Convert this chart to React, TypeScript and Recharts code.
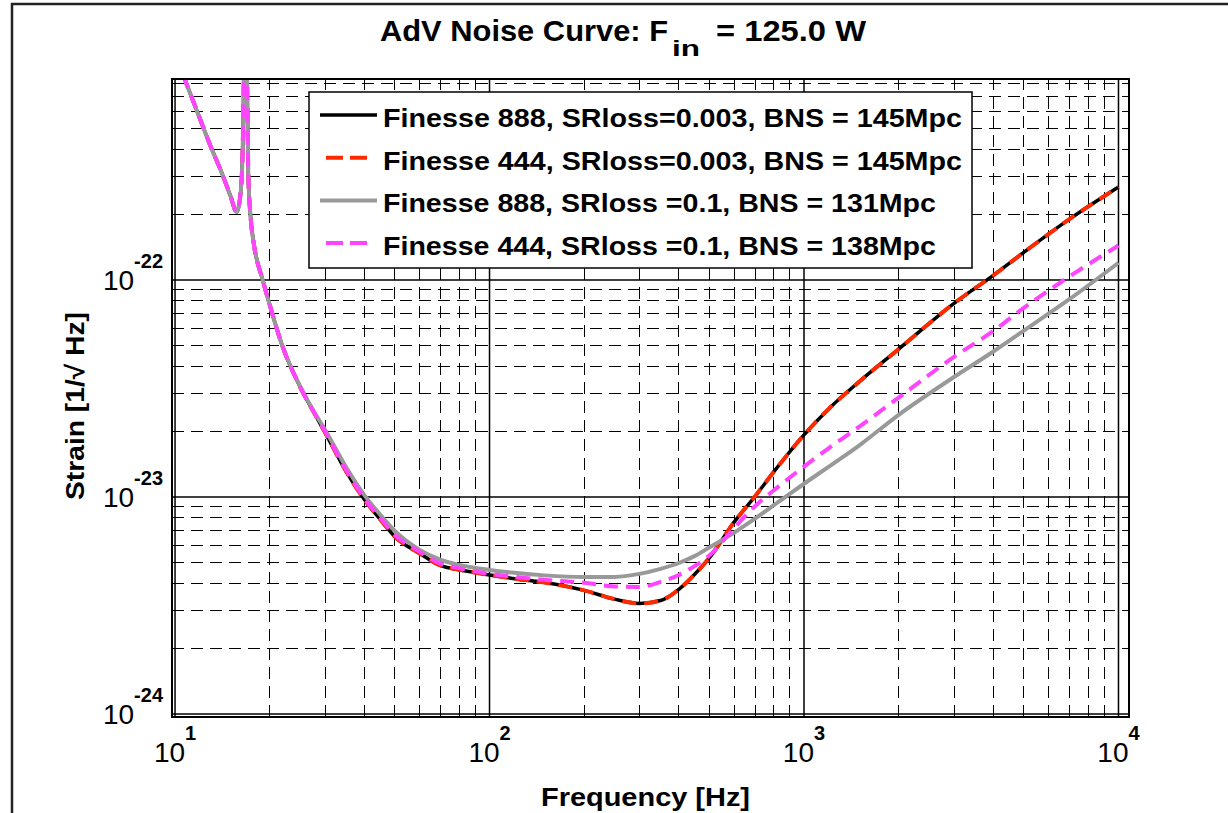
import React from 'react';
import { LineChart, Line, XAxis, YAxis, ReferenceLine } from 'recharts';

// Frequency samples [Hz]
const FREQ = [10, 11, 12, 13, 14, 15, 15.7, 16.2, 16.5, 16.7, 16.9, 17.1, 17.4, 17.8, 19, 20, 22, 25, 28, 30, 35, 40, 45, 50, 60, 70, 80, 100, 120, 150, 200, 250, 300, 350, 400, 450, 500, 600, 700, 800, 1000, 1200, 1500, 2000, 3000, 4000, 5000, 7000, 10000];

// Finesse 888, SRloss=0.003
const BLACK = [1.10e-21, 7.67e-22, 5.53e-22, 4.10e-22, 3.18e-22, 2.44e-22, 2.06e-22, 2.60e-22, 6.07e-22, 3.0e-21, 1.2e-21, 3.05e-22, 1.93e-22, 1.47e-22, 1.0e-22, 7.67e-23, 4.91e-23, 3.21e-23, 2.37e-23, 1.98e-23, 1.31e-23, 9.72e-24, 7.85e-24, 6.56e-24, 5.49e-24, 4.82e-24, 4.62e-24, 4.37e-24, 4.20e-24, 4.03e-24, 3.71e-24, 3.38e-24, 3.23e-24, 3.33e-24, 3.75e-24, 4.41e-24, 5.24e-24, 7.67e-24, 1.01e-23, 1.30e-23, 1.93e-23, 2.55e-23, 3.40e-23, 4.80e-23, 7.80e-23, 1.05e-22, 1.34e-22, 1.91e-22, 2.68e-22];

// Finesse 444, SRloss=0.003
const RED = [1.10e-21, 7.67e-22, 5.53e-22, 4.10e-22, 3.18e-22, 2.44e-22, 2.06e-22, 2.60e-22, 6.07e-22, 3.0e-21, 1.2e-21, 3.05e-22, 1.93e-22, 1.47e-22, 1.0e-22, 7.67e-23, 4.91e-23, 3.21e-23, 2.37e-23, 1.98e-23, 1.31e-23, 9.72e-24, 7.85e-24, 6.56e-24, 5.49e-24, 4.82e-24, 4.62e-24, 4.37e-24, 4.20e-24, 4.03e-24, 3.71e-24, 3.38e-24, 3.23e-24, 3.33e-24, 3.75e-24, 4.41e-24, 5.24e-24, 7.67e-24, 1.01e-23, 1.30e-23, 1.93e-23, 2.55e-23, 3.40e-23, 4.80e-23, 7.80e-23, 1.05e-22, 1.34e-22, 1.91e-22, 2.68e-22];

// Finesse 888, SRloss=0.1
const GRAY = [1.10e-21, 7.67e-22, 5.53e-22, 4.10e-22, 3.18e-22, 2.44e-22, 2.06e-22, 2.60e-22, 6.07e-22, 3.0e-21, 1.2e-21, 3.05e-22, 1.93e-22, 1.47e-22, 1.0e-22, 7.67e-23, 4.91e-23, 3.23e-23, 2.40e-23, 2.04e-23, 1.37e-23, 1.02e-23, 8.26e-24, 6.97e-24, 5.70e-24, 5.13e-24, 4.86e-24, 4.61e-24, 4.47e-24, 4.35e-24, 4.28e-24, 4.28e-24, 4.42e-24, 4.66e-24, 4.96e-24, 5.35e-24, 5.85e-24, 6.85e-24, 7.96e-24, 9.14e-24, 1.15e-23, 1.38e-23, 1.73e-23, 2.39e-23, 3.57e-23, 4.68e-23, 5.84e-23, 8.17e-23, 1.20e-22];

// Finesse 444, SRloss=0.1
const MAGENTA = [1.10e-21, 7.67e-22, 5.53e-22, 4.10e-22, 3.18e-22, 2.44e-22, 2.06e-22, 2.60e-22, 6.07e-22, 3.0e-21, 1.2e-21, 3.05e-22, 1.93e-22, 1.47e-22, 1.0e-22, 7.67e-23, 4.91e-23, 3.21e-23, 2.38e-23, 2.00e-23, 1.33e-23, 9.85e-24, 7.98e-24, 6.68e-24, 5.58e-24, 4.92e-24, 4.70e-24, 4.42e-24, 4.28e-24, 4.15e-24, 4.02e-24, 3.87e-24, 3.85e-24, 4.06e-24, 4.37e-24, 4.81e-24, 5.37e-24, 7.2e-24, 9.09e-24, 1.07e-23, 1.38e-23, 1.68e-23, 2.11e-23, 2.87e-23, 4.42e-23, 5.82e-23, 7.43e-23, 1.04e-22, 1.44e-22];

const SERIES_NAMES = [
  'Finesse 888, SRloss=0.003, BNS = 145Mpc',
  'Finesse 444, SRloss=0.003, BNS = 145Mpc',
  'Finesse 888, SRloss =0.1, BNS = 131Mpc',
  'Finesse 444, SRloss =0.1, BNS = 138Mpc',
];

const X_DECADES = [10, 100, 1000, 10000];
const X_MINOR = [20, 30, 40, 50, 60, 70, 80, 90, 200, 300, 400, 500, 600, 700, 800, 900, 2000, 3000, 4000, 5000, 6000, 7000, 8000, 9000];
const Y_DECADES = [1e-24, 1e-23, 1e-22];
const Y_MINOR = [2e-24, 3e-24, 4e-24, 5e-24, 6e-24, 7e-24, 8e-24, 9e-24, 2e-23, 3e-23, 4e-23, 5e-23, 6e-23, 7e-23, 8e-23, 9e-23, 2e-22, 3e-22, 4e-22, 5e-22, 6e-22, 7e-22, 8e-22];

const X_DOMAIN = [9.78, 10800];
const Y_DOMAIN = [9.68e-25, 8.43e-22];

const FONT = '"Liberation Sans", Arial, Helvetica, sans-serif';

const STYLES = [
  { key: 's0', color: '#000000', width: 3.5, dash: undefined as string | undefined, legendDash: undefined as string | undefined },
  { key: 's1', color: '#ff2a00', width: 4, dash: '14 8', legendDash: '17 7' },
  { key: 's2', color: '#999999', width: 4, dash: undefined, legendDash: undefined },
  { key: 's3', color: '#ff44ff', width: 4, dash: '14 8', legendDash: '17 7' },
];

const data = FREQ.map((f, i) => ({ f, s0: BLACK[i], s1: RED[i], s2: GRAY[i], s3: MAGENTA[i] }));

const XTick = (props: any) => {
  const { x, y, payload } = props;
  const e = Math.round(Math.log10(payload.value));
  return (
    <text x={x} y={y + 45} textAnchor="middle" fontFamily={FONT} fill="#000">
      <tspan fontSize={28}>10</tspan>
      <tspan fontSize={20} fontWeight="bold" dy={-22}>{e}</tspan>
    </text>
  );
};

const YTick = (props: any) => {
  const { x, y, payload } = props;
  const e = Math.round(Math.log10(payload.value));
  return (
    <text x={x} y={y + 10} textAnchor="end" fontFamily={FONT} fill="#000">
      <tspan fontSize={28}>10</tspan>
      <tspan fontSize={20} fontWeight="bold" dy={-22}>{e}</tspan>
    </text>
  );
};

export default function App() {
  const legendWidths = [579, 579, 553, 553];
  return (
    <div style={{ position: 'absolute', left: 0, top: 0, width: 1228, height: 813, background: '#fff', fontFamily: FONT }}>
      <div style={{ position: 'absolute', left: 0, top: 0 }}>
        <LineChart width={1228} height={813} data={data} margin={{ top: 79, right: 99, bottom: 36, left: 72 }}>
          <XAxis
            dataKey="f"
            type="number"
            scale="log"
            domain={X_DOMAIN}
            allowDataOverflow
            ticks={X_DECADES}
            tick={<XTick />}
            tickLine={false}
            axisLine={false}
            tickSize={0}
            tickMargin={0}
            height={60}
            interval={0}
          />
          <YAxis
            type="number"
            scale="log"
            domain={Y_DOMAIN}
            allowDataOverflow
            ticks={Y_DECADES}
            tick={<YTick />}
            tickLine={false}
            axisLine={false}
            tickSize={0}
            tickMargin={9}
            width={100}
            interval={0}
          />
          {X_MINOR.map((v) => (
            <ReferenceLine key={'xm' + v} x={v} stroke="#000" strokeWidth={1} strokeDasharray="12 7" shapeRendering="crispEdges" />
          ))}
          {Y_MINOR.map((v) => (
            <ReferenceLine key={'ym' + v} y={v} stroke="#000" strokeWidth={1} strokeDasharray="12 7" shapeRendering="crispEdges" />
          ))}
          {X_DECADES.map((v) => (
            <ReferenceLine key={'xd' + v} x={v} stroke="#000" strokeWidth={1.5} />
          ))}
          {Y_DECADES.map((v) => (
            <ReferenceLine key={'yd' + v} y={v} stroke="#000" strokeWidth={1.5} />
          ))}
          {STYLES.map((s, i) => (
            <Line
              key={s.key}
              dataKey={s.key}
              name={SERIES_NAMES[i]}
              type="monotone"
              stroke={s.color}
              strokeWidth={s.width}
              strokeDasharray={s.dash}
              dot={false}
              activeDot={false}
              isAnimationActive={false}
            />
          ))}
        </LineChart>
      </div>
      <svg width={1228} height={813} style={{ position: 'absolute', left: 0, top: 0, pointerEvents: 'none' }}>
        {/* figure border */}
        <line x1={11} y1={4} x2={1228} y2={4} stroke="#222" strokeWidth={2.5} />
        <line x1={12} y1={3} x2={12} y2={813} stroke="#222" strokeWidth={2.5} />
        {/* axes frame */}
        <rect x={172} y={79} width={957} height={638} fill="none" stroke="#000" strokeWidth={2} />
        {/* title */}
        <text x={380} y={41} fontFamily={FONT} fontWeight="bold" fontSize={30} textLength={288} lengthAdjust="spacingAndGlyphs">AdV Noise Curve: F</text>
        <text x={672} y={56} fontFamily={FONT} fontWeight="bold" fontSize={22} textLength={28} lengthAdjust="spacingAndGlyphs">in</text>
        <text x={716} y={41} fontFamily={FONT} fontWeight="bold" fontSize={30} textLength={150} lengthAdjust="spacingAndGlyphs">= 125.0 W</text>
        {/* axis labels */}
        <text x={541} y={806} fontFamily={FONT} fontWeight="bold" fontSize={26} textLength={209} lengthAdjust="spacingAndGlyphs">Frequency [Hz]</text>
        <text x={0} y={0} transform="translate(84,500) rotate(-90)" fontFamily={FONT} fontWeight="bold" fontSize={26} textLength={188} lengthAdjust="spacingAndGlyphs">Strain [1/√ Hz]</text>
        {/* legend */}
        <rect x={309} y={92} width={663} height={176} fill="#fff" stroke="#000" strokeWidth={1.5} />
        {STYLES.map((s, i) => {
          const ly = 115 + i * 42.7;
          return (
            <g key={'lg' + i}>
              <line
                x1={s.legendDash ? 326 : 320}
                x2={s.legendDash ? 370 : 377}
                y1={ly}
                y2={ly}
                stroke={s.color}
                strokeWidth={s.width}
                strokeDasharray={s.legendDash}
              />
              <text x={383} y={ly + 12} fontFamily={FONT} fontWeight="bold" fontSize={25} textLength={legendWidths[i]} lengthAdjust="spacingAndGlyphs">{SERIES_NAMES[i]}</text>
            </g>
          );
        })}
      </svg>
    </div>
  );
}
